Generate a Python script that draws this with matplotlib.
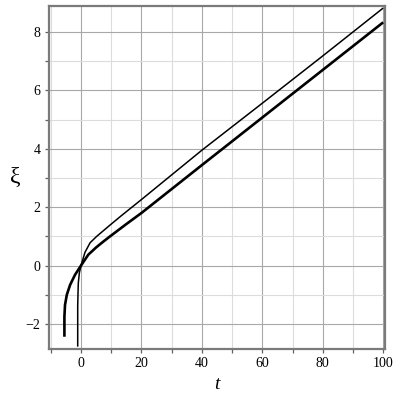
import matplotlib.pyplot as plt
from matplotlib.ticker import MultipleLocator

# thin curve
t_thin = [-1.1, -1.1, -1.0, -0.9, -0.55, 0, 1.3, 3.0, 5.2, 10, 13.5, 20, 40, 60, 80, 100]
xi_thin = [-2.78, -1.4, -0.95, -0.6, -0.25, 0, 0.45, 0.78, 1.0, 1.42, 1.72, 2.26, 3.95, 5.56, 7.18, 8.82]

# thick curve
t_thick = [-5.5, -5.5, -5.3, -4.7, -3.6, -2.0, 0, 2.4, 5, 7.5, 10, 15, 20, 30, 40, 60, 80, 100]
xi_thick = [-2.44, -1.75, -1.35, -1.0, -0.66, -0.32, 0, 0.37, 0.62, 0.83, 1.03, 1.42, 1.8, 2.62, 3.44, 5.07, 6.70, 8.33]

plt.rcParams['font.family'] = ['Liberation Serif', 'DejaVu Serif']

fig = plt.figure(figsize=(4, 4), dpi=100)
ax = fig.add_axes([0.1225, 0.1275, 0.84, 0.8575])

ax.plot(t_thin, xi_thin, color='black', lw=1.1, solid_capstyle='butt')
ax.plot(t_thick, xi_thick, color='black', lw=1.9, solid_capstyle='butt')

ax.set_xlim(-10.6, 100.6)
ax.set_ylim(-2.86, 8.89)

ax.xaxis.set_major_locator(MultipleLocator(20))
ax.xaxis.set_minor_locator(MultipleLocator(10))
ax.yaxis.set_major_locator(MultipleLocator(2))
ax.yaxis.set_minor_locator(MultipleLocator(1))

# grid: darker major, lighter minor
ax.grid(which='major', color='#a8a8a8', lw=0.8)
ax.grid(which='minor', color='#dcdcdc', lw=0.8)
ax.set_axisbelow(True)

for side in ax.spines.values():
    side.set_color('#7a7a7a')
    side.set_linewidth(1.6)

ax.tick_params(which='both', direction='out', length=3, width=0.9, color='#606060',
               labelsize=10, pad=3, top=False, right=False)

ax.set_xlabel('t', fontsize=14, style='italic', labelpad=4)
ax.set_ylabel('ξ', fontsize=17, rotation=0)
ax.yaxis.set_label_coords(-0.10, 0.47)

fig.savefig('out.png', dpi=100)
